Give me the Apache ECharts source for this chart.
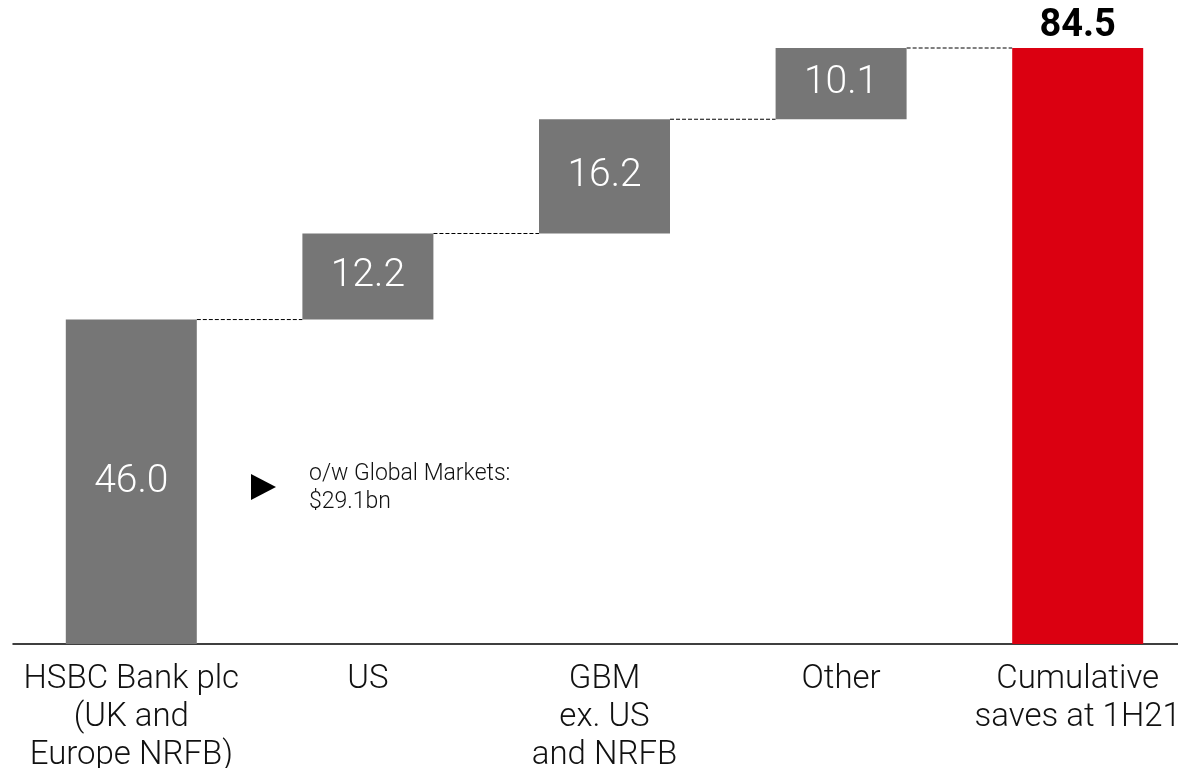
<!DOCTYPE html>
<html>
<head>
<meta charset="utf-8">
<script src="https://cdn.jsdelivr.net/npm/echarts@6/dist/echarts.min.js"></script>
<style>
html,body{margin:0;padding:0;background:#fff;}
#chart{width:1178px;height:768px;}
</style>
</head>
<body>
<div id="chart"></div>
<script>
const categories = ['HSBC Bank plc\n(UK and\nEurope NRFB)', 'US', 'GBM\nex. US\nand NRFB', 'Other', 'Cumulative\nsaves at 1H21'];
const values = [46.0, 12.2, 16.2, 10.1, 84.5];
const isTotal = [false, false, false, false, true];
const noteLines = ['o/w Global Markets:', '$29.1bn'];

const FONT = 'Roboto, "Liberation Sans", sans-serif';
const GRAY = '#767676';
const RED = '#DB0011';

// build stacked waterfall from the arrays
const bases = [];
const tops = [];
let run = 0;
values.forEach((v, i) => {
  if (isTotal[i]) { bases.push(0); tops.push(v); run = v; }
  else { bases.push(run); run += v; tops.push(run); }
});
const connectors = [];
for (let i = 0; i < values.length - 1; i++) connectors.push([i, tops[i]]);

const BAR_FRAC = 131 / 236.5;

const chart = echarts.init(document.getElementById('chart'));
chart.setOption({
  animation: false,
  grid: { left: 13, width: 1183, top: 48, bottom: 124, containLabel: false, outerBoundsMode: 'none' },
  xAxis: {
    type: 'category',
    data: categories,
    axisLine: { show: true, lineStyle: { color: '#000', width: 1.5 } },
    axisTick: { show: false },
    axisLabel: {
      interval: 0, color: '#111', fontFamily: FONT, fontSize: 33, fontWeight: 300,
      lineHeight: 38, margin: 17, align: 'center'
    }
  },
  yAxis: {
    type: 'value', min: 0, max: 84.5,
    show: false, splitLine: { show: false }
  },
  series: [
    {
      type: 'bar', stack: 'w', barWidth: 131, silent: true,
      itemStyle: { color: 'transparent' },
      data: bases
    },
    {
      type: 'bar', stack: 'w', barWidth: 131,
      data: values.map((v, i) => ({
        value: v,
        itemStyle: { color: isTotal[i] ? RED : GRAY },
        label: isTotal[i] ? {
          show: true, position: 'top', distance: 3,
          color: '#000', fontFamily: FONT, fontWeight: 'bold', fontSize: 38,
          formatter: (p) => p.value.toFixed(1)
        } : {
          show: true, position: 'inside',
          color: '#fff', fontFamily: FONT, fontWeight: 300, fontSize: 39,
          formatter: (p) => p.value.toFixed(1)
        }
      }))
    },
    {
      type: 'custom',
      silent: true,
      data: connectors,
      renderItem: function (params, api) {
        const p = api.coord([api.value(0), api.value(1)]);
        const band = api.size([1, 0])[0];
        const bw = band * BAR_FRAC;
        return {
          type: 'line',
          shape: { x1: p[0] + bw / 2, y1: p[1], x2: p[0] + band - bw / 2, y2: p[1] },
          style: { stroke: '#000', lineWidth: 1, lineDash: [4, 2] }
        };
      },
      z: 1
    }
  ],
  graphic: [
    {
      type: 'polygon',
      shape: { points: [[251, 474], [251, 500], [276, 487]] },
      style: { fill: '#000' }
    },
    {
      type: 'text', left: 309, top: 460,
      style: {
        text: noteLines.join('\n'), fill: '#111', font: '300 23px ' + FONT, lineHeight: 28
      }
    }
  ]
});
</script>
</body>
</html>
